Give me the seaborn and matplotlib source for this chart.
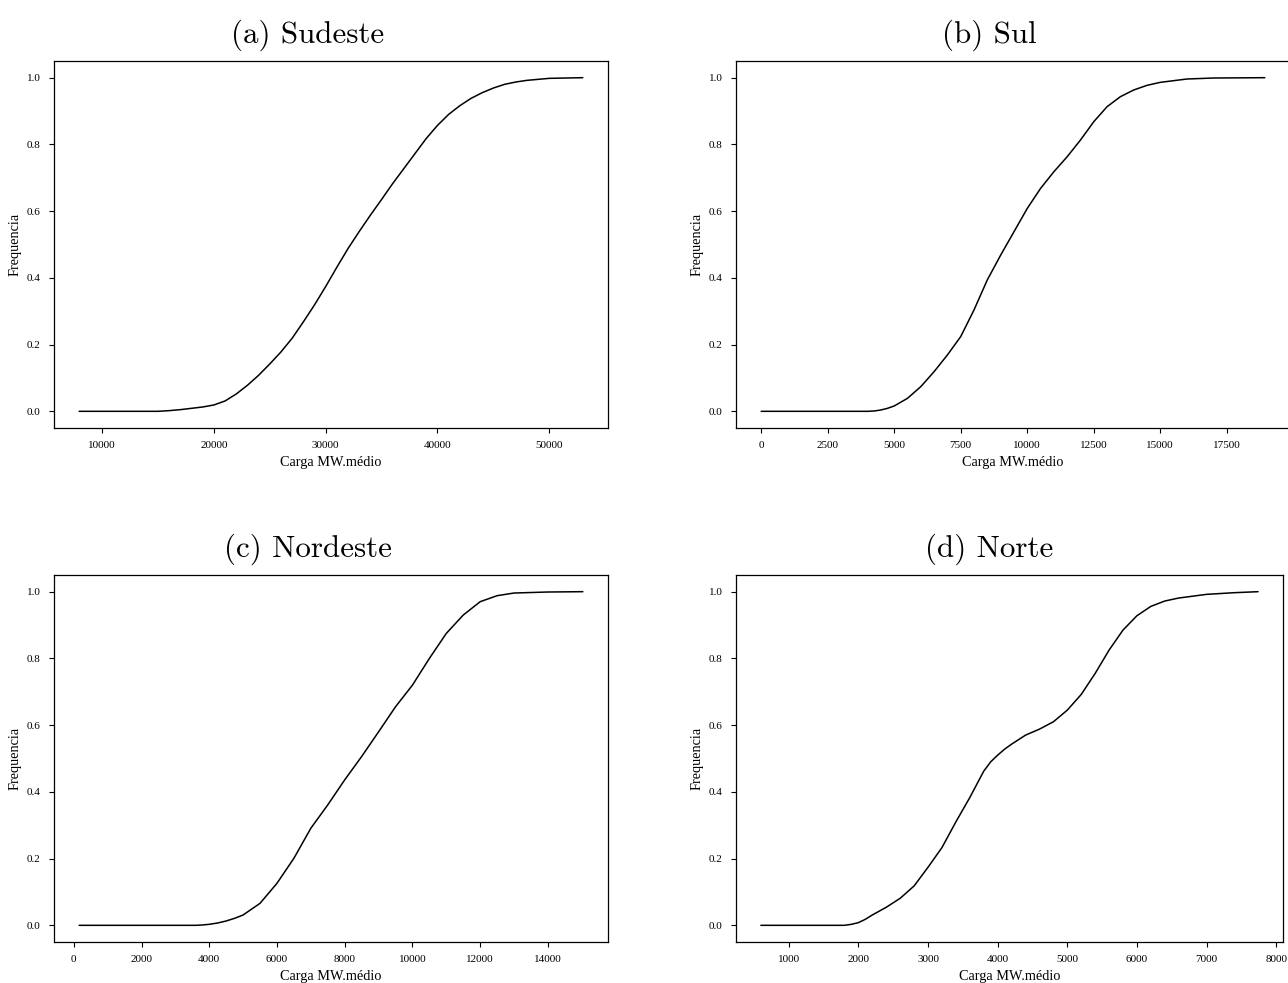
import matplotlib
matplotlib.use("Agg")
import matplotlib.pyplot as plt
import seaborn as sns
import pandas as pd

# Cumulative frequency of average load (MW.médio) per subsystem
sudeste_carga = [7950, 15000, 16000, 17000, 18000, 19000, 20000, 21000, 22000, 23000,
                 24000, 25000, 26000, 27000, 28000, 29000, 30000, 31000, 32000, 33000,
                 34000, 35000, 36000, 37000, 38000, 39000, 40000, 41000, 42000, 43000,
                 44000, 45000, 46000, 47000, 48000, 50000, 53000]
sudeste_freq = [0.0, 0.0, 0.002, 0.005, 0.009, 0.013, 0.019, 0.031, 0.052, 0.078,
                0.108, 0.142, 0.178, 0.219, 0.268, 0.319, 0.374, 0.432, 0.488, 0.539,
                0.588, 0.635, 0.683, 0.728, 0.773, 0.818, 0.857, 0.890, 0.916, 0.938,
                0.955, 0.969, 0.980, 0.987, 0.992, 0.998, 1.0]

sul_carga = [0, 4000, 4250, 4500, 4750, 5000, 5500, 6000, 6500, 7000, 7500, 8000, 8500,
             9000, 9500, 10000, 10500, 11000, 11500, 12000, 12500, 13000, 13500, 14000,
             14500, 15000, 16000, 17000, 18930]
sul_freq = [0.0, 0.0, 0.001, 0.004, 0.009, 0.016, 0.039, 0.074, 0.119, 0.169, 0.224,
            0.304, 0.394, 0.468, 0.538, 0.608, 0.668, 0.718, 0.763, 0.813, 0.868,
            0.913, 0.943, 0.963, 0.977, 0.986, 0.996, 0.999, 1.0]

nordeste_carga = [160, 3600, 3800, 4000, 4250, 4500, 4750, 5000, 5500, 6000, 6500, 7000,
                  7500, 8000, 8500, 9000, 9500, 10000, 10500, 11000, 11500, 12000, 12500,
                  13000, 14000, 15030]
nordeste_freq = [0.0, 0.0, 0.001, 0.003, 0.007, 0.013, 0.021, 0.031, 0.066, 0.126,
                 0.201, 0.291, 0.361, 0.436, 0.506, 0.580, 0.655, 0.720, 0.800, 0.875,
                 0.930, 0.970, 0.988, 0.996, 0.999, 1.0]

norte_carga = [600, 1800, 1900, 2000, 2100, 2200, 2400, 2600, 2800, 3000, 3200, 3400,
               3600, 3800, 3900, 4000, 4100, 4200, 4400, 4600, 4800, 5000, 5200, 5400,
               5600, 5800, 6000, 6200, 6400, 6600, 7000, 7400, 7740]
norte_freq = [0.0, 0.0, 0.003, 0.008, 0.018, 0.031, 0.054, 0.081, 0.118, 0.174, 0.233,
              0.310, 0.383, 0.462, 0.490, 0.510, 0.528, 0.543, 0.570, 0.588, 0.610,
              0.645, 0.692, 0.755, 0.825, 0.885, 0.928, 0.956, 0.972, 0.981, 0.992,
              0.997, 1.0]

titulos = ["(a) Sudeste", "(b) Sul", "(c) Nordeste", "(d) Norte"]
xlabel = "Carga MW.médio"
ylabel = "Frequencia"

sns.set_theme(style="ticks")
plt.rcParams["font.family"] = ["Liberation Serif", "DejaVu Serif"]
plt.rcParams["axes.edgecolor"] = "black"
plt.rcParams["axes.labelcolor"] = "black"
plt.rcParams["text.color"] = "black"
plt.rcParams["xtick.color"] = "black"
plt.rcParams["ytick.color"] = "black"

W, H = 1288, 983
fig = plt.figure(figsize=(W / 100, H / 100), dpi=100)

# axes boxes in pixels: left, top, right, bottom, title centre
caixas = [
    (54, 61, 608, 428, 308),
    (736, 61, 1290, 428, 989),
    (54, 575, 608, 942, 308),
    (736, 575, 1283, 942, 989),
]
series = [
    (sudeste_carga, sudeste_freq),
    (sul_carga, sul_freq),
    (nordeste_carga, nordeste_freq),
    (norte_carga, norte_freq),
]
xticks = [
    [10000, 20000, 30000, 40000, 50000],
    [0, 2500, 5000, 7500, 10000, 12500, 15000, 17500],
    [0, 2000, 4000, 6000, 8000, 10000, 12000, 14000],
    [1000, 2000, 3000, 4000, 5000, 6000, 7000, 8000],
]

for (l, t, r, b, tc), (xs, ys), titulo, xt in zip(caixas, series, titulos, xticks):
    ax = fig.add_axes([l / W, 1 - b / H, (r - l) / W, (b - t) / H])
    df = pd.DataFrame({"carga": xs, "freq": ys})
    sns.lineplot(data=df, x="carga", y="freq", ax=ax, color="black", linewidth=1.1)
    ax.set_xticks(xt)
    ax.set_yticks([0.0, 0.2, 0.4, 0.6, 0.8, 1.0])
    ax.set_yticklabels(["0.0", "0.2", "0.4", "0.6", "0.8", "1.0"])
    ax.tick_params(labelsize=8, length=3.5, width=0.8, pad=6)
    ax.set_xlabel(xlabel, fontsize=10.3, labelpad=4)
    ax.set_ylabel(ylabel, fontsize=10.3, labelpad=4)
    ax.set_title(titulo, fontsize=22.3, fontfamily="cmr10", pad=13,
                 x=(tc - l) / (r - l), color="black")
    for s in ax.spines.values():
        s.set_linewidth(0.9)
        s.set_color("black")

fig.savefig("out.png", dpi=100, facecolor="white")
